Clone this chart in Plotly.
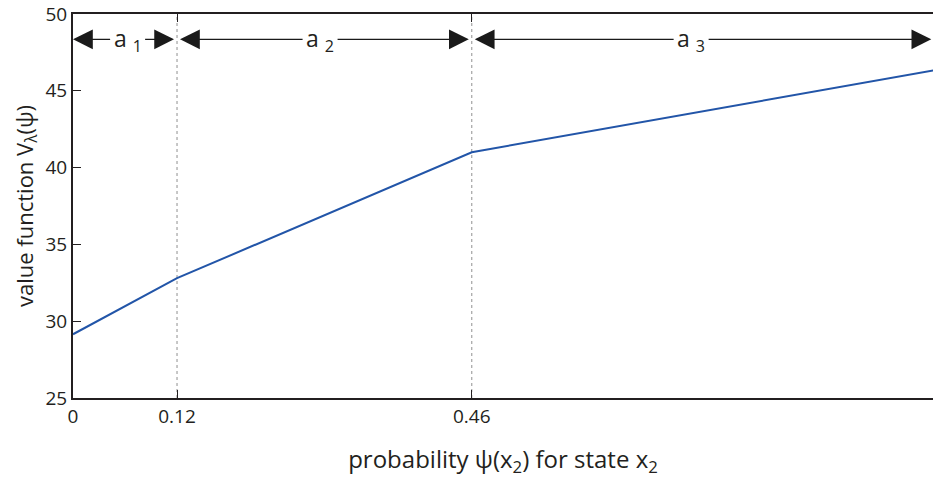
import plotly.graph_objects as go

# data
psi = [0.0, 0.12, 0.46, 1.0]
value = [29.15, 32.8, 41.0, 46.4]
boundaries = [0.12, 0.46]
segments = [(0.0, 0.12, "a <sub>1</sub>"), (0.12, 0.46, "a <sub>2</sub>"), (0.46, 0.99, "a <sub>3</sub>")]
label_x = [0.063, 0.285, 0.713]
xtick_vals = [0, 0.12, 0.46, 1]
xtick_text = ["0", "0.12", "0.46", "1"]
ytick_vals = [25, 30, 35, 40, 45, 50]

FONT = "Open Sans"
TXT = "#231f20"
ARROW_Y = 48.35
XMAX = 0.992

fig = go.Figure()
fig.add_trace(go.Scatter(x=psi, y=value, mode="lines",
                         line=dict(color="#2255a8", width=2), showlegend=False,
                         hoverinfo="skip"))

for b in boundaries:
    fig.add_shape(type="line", x0=b, x1=b, y0=25, y1=50, xref="x", yref="y",
                  line=dict(color="#909090", width=1, dash="dot"), layer="below")

for (x0, x1, lab), lx in zip(segments, label_x):
    for i, tgt in enumerate([x0, x1]):
        fig.add_annotation(x=tgt, y=ARROW_Y, ax=lx, ay=ARROW_Y, xref="x", yref="y",
                           axref="x", ayref="y", text=lab, showarrow=True,
                           arrowhead=2, arrowsize=3.6, arrowwidth=1.1, arrowcolor="#1a1a1a",
                           standoff=3 if tgt in boundaries else 0,
                           startstandoff=2,
                           font=dict(family=FONT, size=23,
                                     color=TXT if i == 0 else "rgba(0,0,0,0)"))

fig.update_layout(
    width=933, height=478,
    margin=dict(l=73, r=0, t=14, b=80),
    plot_bgcolor="white", paper_bgcolor="white",
    font=dict(family=FONT, size=19, color=TXT),
    xaxis=dict(range=[0, XMAX], tickvals=xtick_vals, ticktext=xtick_text,
               ticks="inside", ticklen=8, tickcolor=TXT, showline=True,
               linecolor=TXT, linewidth=2, mirror="ticks", showgrid=False,
               zeroline=False, automargin=False,
               title=dict(text="probability ψ(x<sub>2</sub>) for state x<sub>2</sub>",
                          font=dict(size=24), standoff=26)),
    yaxis=dict(range=[25, 50], tickvals=ytick_vals, ticks="inside", ticklen=8,
               tickcolor=TXT, showline=True, linecolor=TXT, linewidth=2,
               showgrid=False, zeroline=False, automargin=False,
               ticklabeloverflow="allow",
               title=dict(text="value function V<sub>λ</sub>(ψ)", font=dict(size=22),
                          standoff=6)),
)

fig.write_html("out.html", config={"displayModeBar": False},
               post_script="document.body.style.margin='0';document.body.style.overflow='hidden';")
